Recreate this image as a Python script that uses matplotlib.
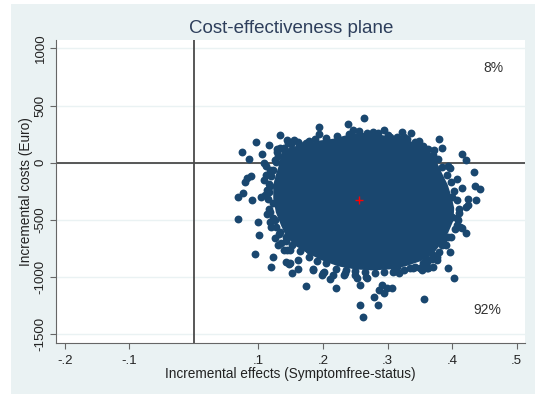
import matplotlib
matplotlib.use("Agg")
import matplotlib.pyplot as plt
from matplotlib.patches import Rectangle

plt.rcParams['font.family'] = ['Liberation Sans', 'DejaVu Sans']

# Bootstrap replicates lying outside the dense centre of the cloud
boot_effect = [
    0.264, 0.239, 0.194, 0.194, 0.133, 0.096, 0.116, 0.144, 0.161, 0.174,
    0.247, 0.278, 0.295, 0.322, 0.336, 0.303, 0.325, 0.349, 0.379, 0.384,
    0.372, 0.415, 0.422, 0.393, 0.397, 0.434, 0.407, 0.415, 0.435, 0.443,
    0.399, 0.425, 0.437, 0.422, 0.410, 0.399, 0.407, 0.415, 0.288, 0.309,
    0.335,
    0.075, 0.085, 0.106, 0.108, 0.129, 0.082, 0.089, 0.079, 0.076, 0.069,
    0.090, 0.104, 0.068, 0.099, 0.118, 0.108, 0.113, 0.123, 0.118, 0.118,
    0.126, 0.134, 0.112,
    0.101, 0.094, 0.123, 0.119, 0.131, 0.139, 0.149, 0.149, 0.162, 0.162,
    0.152, 0.173, 0.185, 0.200, 0.211, 0.220, 0.232, 0.252, 0.257, 0.257,
    0.262, 0.268, 0.279, 0.285, 0.126, 0.134, 0.142, 0.165, 0.178, 0.196,
    0.148, 0.184, 0.201, 0.198, 0.216, 0.234, 0.250, 0.267, 0.291, 0.299,
    0.307, 0.286, 0.294, 0.357, 0.317, 0.314, 0.350, 0.361, 0.371, 0.376,
    0.144, 0.142,
    0.425, 0.407, 0.412, 0.422, 0.393, 0.403, 0.394, 0.384, 0.371, 0.361,
    0.353, 0.363, 0.335, 0.309, 0.397, 0.386, 0.376, 0.360, 0.342, 0.355,
    # replicates crowding the border of the dense centre
    0.140, 0.150, 0.163, 0.178, 0.188, 0.205, 0.222, 0.240, 0.255, 0.268,
    0.285, 0.300, 0.315, 0.330, 0.342, 0.355, 0.362, 0.370, 0.378,
    0.385, 0.392, 0.398, 0.403, 0.408, 0.410, 0.409, 0.404, 0.398, 0.390,
    0.380, 0.368, 0.355,
    0.340, 0.325, 0.310, 0.295, 0.280, 0.265, 0.250, 0.235, 0.220, 0.205,
    0.190, 0.178, 0.165, 0.152, 0.143,
    0.132, 0.127, 0.122, 0.117, 0.115, 0.116, 0.117, 0.120, 0.123, 0.127,
    0.130,
    0.112, 0.118, 0.110, 0.113, 0.120, 0.125, 0.135, 0.145, 0.155, 0.165,
    0.128,
]
boot_cost = [
    393, 338, 315, 248, 240, 178, 155, 198, 184, 175,
    286, 271, 286, 271, 257, 222, 227, 192, 210, 126,
    111, 73, 24, -29, -49, -79, -142, -224, -204, -233,
    -302, -320, -326, -385, -442, -472, -545, -573, 175, 140,
    111,
    91, 30, 76, -5, 96, -136, -116, -166, -262, -302,
    -326, -302, -489, -516, -516, -151, -239, -355, -428, -64,
    24, 128, -107,
    -632, -801, -822, -909, -719, -763, -763, -879, -850, -929,
    -962, -1075, -932, -967, -1019, -1098, -982, -1010, -1069, -1244,
    -1346, -1010, -1171, -1244, -501, -603, -647, -705, -763, -807,
    -885, -938, -953, -982, -982, -967, -982, -996, -1069, -1098,
    -1098, -1113, -1142, -1194, -967, -909, -923, -923, -909, -850,
    -763, -865,
    -370, -486, -559, -617, -918, -1010, -647, -719, -807, -865,
    -938, -923, -923, -953, -778, -676, -822, -836, -909, -909,
    130, 160, 165, 190, 205, 215, 230, 250, 275, 262,
    258, 240, 225, 205, 180, 150, 120, 70, 30,
    -40, -110, -170, -250, -330, -400, -500, -580, -650, -720,
    -780, -840, -880,
    -920, -940, -950, -955, -960, -955, -950, -940, -925, -880,
    -860, -820, -770, -720, -680,
    -620, -560, -480, -400, -320, -260, -190, -120, -60, 10,
    60,
    -30, -200, -280, -450, -560, -660, -700, 170, 200, 140,
    120,
]

# Outline of the region where replicates overlap completely
core_effect = [
    0.134, 0.138, 0.152, 0.172, 0.193, 0.216, 0.234, 0.257, 0.280, 0.304,
    0.327, 0.347, 0.363, 0.374, 0.381, 0.391, 0.397, 0.401, 0.400, 0.392,
    0.381, 0.369, 0.350, 0.327, 0.304, 0.276, 0.250, 0.224, 0.199, 0.177,
    0.159, 0.145, 0.137, 0.129, 0.125, 0.125, 0.129,
]
core_cost = [
    -20, 94, 128, 146, 181, 198, 225, 251, 242, 216,
    190, 155, 94, 6, -81, -195, -300, -396, -501, -606,
    -702, -789, -850, -894, -920, -929, -920, -894, -842, -781,
    -719, -641, -545, -431, -309, -195, -108,
]

mean_effect = 0.256
mean_cost = -326

x_ticks = [-0.2, -0.1, 0.1, 0.2, 0.3, 0.4, 0.5]
x_tick_labels = ['-.2', '-.1', '.1', '.2', '.3', '.4', '.5']
y_ticks = [-1500, -1000, -500, 0, 500, 1000]
y_tick_labels = ['-1500', '-1000', '-500', '0', '500', '1000']

quadrant_labels = ['8%', '92%']
quadrant_x = [0.464, 0.454]
quadrant_y = [825, -1288]

navy = '#1a476f'
panel = '#eaf2f3'

fig = plt.figure(figsize=(5.35, 3.94), dpi=100)
fig.patch.set_facecolor('white')
fig.add_artist(Rectangle((11 / 535, 0), 1 - 11 / 535, 1 - 4 / 394,
                         transform=fig.transFigure, facecolor=panel,
                         edgecolor='none', zorder=-10))

ax = fig.add_axes([0.1056, 0.1302, 0.8757, 0.7683])
ax.set_facecolor('white')
ax.set_xlim(-0.2128, 0.5128)
ax.set_ylim(-1573, 1073)

ax.set_yticks(y_ticks)
ax.yaxis.grid(True, color=panel, lw=1.0)
ax.set_axisbelow(True)

ax.axhline(0, color='#4a4a4a', lw=1.3, zorder=1)
ax.axvline(0, color='#4a4a4a', lw=1.3, zorder=1)

ax.fill(core_effect, core_cost, facecolor=navy, edgecolor=navy, lw=2, zorder=2)
ax.scatter(boot_effect, boot_cost, s=32, c=navy, linewidths=0, zorder=3)
ax.plot([mean_effect], [mean_cost], marker='+', color='red', ms=6, mew=1.0,
        linestyle='none', zorder=4)

for lab, tx, ty in zip(quadrant_labels, quadrant_x, quadrant_y):
    ax.text(tx, ty, lab, ha='center', va='center', fontsize=10, color='#333333')

for side in ('top', 'right'):
    ax.spines[side].set_visible(False)
for side in ('left', 'bottom'):
    ax.spines[side].set_color('#666666')
    ax.spines[side].set_linewidth(0.8)

ax.set_xticks(x_ticks)
ax.set_xticklabels(x_tick_labels)
ax.set_yticklabels(y_tick_labels, rotation=90, va='center')
ax.tick_params(direction='out', length=4, width=0.8, color='#666666',
               labelsize=9.5, labelcolor='#222222')
ax.tick_params(axis='x', pad=5)
ax.tick_params(axis='y', pad=3)

ax.set_xlabel('Incremental effects (Symptomfree-status)', fontsize=9.8,
              color='#222222', labelpad=0)
ax.set_ylabel('Incremental costs (Euro)', fontsize=9.8, color='#222222',
              labelpad=1)
ax.set_title('Cost-effectiveness plane', fontsize=13.5, color='#2e3f5c', pad=5)

fig.savefig('out.png', dpi=100, facecolor=fig.get_facecolor())
